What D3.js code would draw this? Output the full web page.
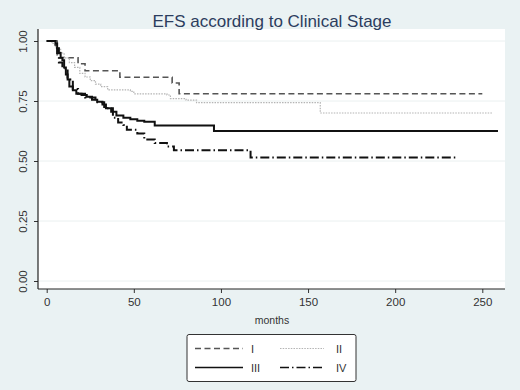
<!DOCTYPE html>
<html>
<head>
<meta charset="utf-8">
<script src="https://cdn.jsdelivr.net/npm/d3@7"></script>
<style>
  html, body { margin: 0; padding: 0; background: #eaf2f3; }
  svg { display: block; font-family: "Liberation Sans", Arial, sans-serif; }
</style>
</head>
<body>
<svg id="chart" width="520" height="390"></svg>
<script>
// Kaplan-Meier curves (months, survival)
const stageNames = ['I', 'II', 'III', 'IV'];

const timesI = [0, 6, 18, 22, 42, 72, 76, 250];
const survI  = [1, 0.93, 0.905, 0.876, 0.849, 0.825, 0.78, 0.78];

const timesII = [0, 3, 5, 8, 10, 13, 16, 19, 22, 25, 28, 31, 35, 48, 50, 69, 71, 80, 86, 157, 256];
const survII  = [1, 0.99, 0.97, 0.95, 0.93, 0.91, 0.89, 0.865, 0.85, 0.835, 0.82, 0.81, 0.796, 0.79, 0.78, 0.775, 0.76, 0.754, 0.743, 0.70, 0.70];

const timesIII = [0, 5, 6, 7, 8, 9, 10, 11, 12, 13, 15, 17, 20, 23, 26, 29, 32, 34, 37, 40, 44, 48, 52, 56, 62, 96, 259];
const survIII  = [1, 0.99, 0.97, 0.95, 0.93, 0.92, 0.89, 0.86, 0.84, 0.81, 0.795, 0.78, 0.775, 0.768, 0.755, 0.747, 0.735, 0.72, 0.705, 0.69, 0.68, 0.674, 0.668, 0.664, 0.648, 0.625, 0.625];

const timesIV = [0, 5, 6, 7, 9, 12, 15, 18, 22, 28, 33, 38, 41, 44, 46, 52, 56, 62, 69, 73, 117, 236];
const survIV  = [1, 0.97, 0.95, 0.91, 0.886, 0.84, 0.80, 0.78, 0.765, 0.745, 0.72, 0.68, 0.66, 0.65, 0.63, 0.615, 0.59, 0.575, 0.56, 0.545, 0.515, 0.515];

const xTicks = [0, 50, 100, 150, 200, 250];
const yTicks = [0, 0.25, 0.5, 0.75, 1];

const series = [
  { name: stageNames[0], t: timesI,   s: survI,   color: '#555', width: 1.6, dash: '6,3.5' },
  { name: stageNames[1], t: timesII,  s: survII,  color: '#b4b4b4', width: 1.2, dash: '1.5,1.2' },
  { name: stageNames[2], t: timesIII, s: survIII, color: '#111', width: 2, dash: null },
  { name: stageNames[3], t: timesIV,  s: survIV,  color: '#111', width: 2, dash: '9,3,1.5,3' }
];

const svg = d3.select('#chart');

// plot region
const plot = { left: 38, right: 505, top: 29, bottom: 289 };
const x = d3.scaleLinear().domain([0, 250]).range([46.7, 482.3]);
const y = d3.scaleLinear().domain([0, 1]).range([281, 41]);

svg.append('rect')
  .attr('x', plot.left).attr('y', plot.top)
  .attr('width', plot.right - plot.left).attr('height', plot.bottom - plot.top)
  .attr('fill', '#fff');

// faint gridlines
svg.append('g').selectAll('line')
  .data(yTicks)
  .join('line')
  .attr('x1', plot.left + 1).attr('x2', plot.right)
  .attr('y1', d => y(d)).attr('y2', d => y(d))
  .attr('stroke', '#eaf0f0').attr('stroke-width', 1);

// title
svg.append('text')
  .attr('x', 272).attr('y', 27)
  .attr('text-anchor', 'middle')
  .attr('font-size', 17)
  .attr('fill', '#2c3d5e')
  .text('EFS according to Clinical Stage');

// axes
const yAxis = d3.axisLeft(y).tickValues(yTicks).tickSize(4).tickFormat(d3.format('.2f'));
const gy = svg.append('g').attr('transform', `translate(${plot.left},0)`).call(yAxis);
gy.select('.domain').remove();
gy.selectAll('text')
  .attr('transform', 'rotate(-90)')
  .attr('x', 0).attr('y', -11).attr('dy', 0)
  .attr('text-anchor', 'middle')
  .attr('font-size', 11.5).attr('fill', '#333');
gy.selectAll('line').attr('stroke', '#333');

const xAxis = d3.axisBottom(x).tickValues(xTicks).tickSize(4);
const gx = svg.append('g').attr('transform', `translate(0,${plot.bottom})`).call(xAxis);
gx.select('.domain').remove();
gx.selectAll('text').attr('y', 9).attr('font-size', 11.5).attr('fill', '#333');
gx.selectAll('line').attr('stroke', '#333');

svg.append('line')
  .attr('x1', plot.left).attr('x2', plot.left)
  .attr('y1', plot.top).attr('y2', plot.bottom)
  .attr('stroke', '#222').attr('stroke-width', 1.2);
svg.append('line')
  .attr('x1', plot.left).attr('x2', plot.right)
  .attr('y1', plot.bottom).attr('y2', plot.bottom)
  .attr('stroke', '#222').attr('stroke-width', 1.2);

svg.append('text')
  .attr('x', 272).attr('y', 324)
  .attr('text-anchor', 'middle')
  .attr('font-size', 10.5).attr('fill', '#333')
  .text('months');

// curves
const line = d3.line()
  .x(d => x(d[0]))
  .y(d => y(d[1]))
  .curve(d3.curveStepAfter);

svg.append('g').selectAll('path')
  .data(series)
  .join('path')
  .attr('d', d => line(d.t.map((t, i) => [t, d.s[i]])))
  .attr('fill', 'none')
  .attr('stroke', d => d.color)
  .attr('stroke-width', d => d.width)
  .attr('stroke-dasharray', d => d.dash);

// legend
const lg = svg.append('g');
lg.append('rect')
  .attr('x', 187).attr('y', 334.5)
  .attr('width', 169).attr('height', 47)
  .attr('rx', 2)
  .attr('fill', '#fff').attr('stroke', '#333').attr('stroke-width', 1);

const cols = [195, 280];
const rows = [348.5, 367.5];
const item = lg.selectAll('g.item')
  .data(series)
  .join('g')
  .attr('class', 'item')
  .attr('transform', (d, i) => `translate(${cols[i % 2]},${rows[Math.floor(i / 2)]})`);

item.append('line')
  .attr('x1', 0).attr('x2', (d, i) => i % 2 ? 44 : 48)
  .attr('y1', 0).attr('y2', 0)
  .attr('stroke', d => d.color)
  .attr('stroke-width', d => d.width === 2 ? 1.6 : d.width)
  .attr('stroke-dasharray', d => d.dash);

item.append('text')
  .attr('x', 56)
  .attr('y', 4)
  .attr('font-size', 11).attr('fill', '#333')
  .text(d => d.name);
</script>
</body>
</html>
